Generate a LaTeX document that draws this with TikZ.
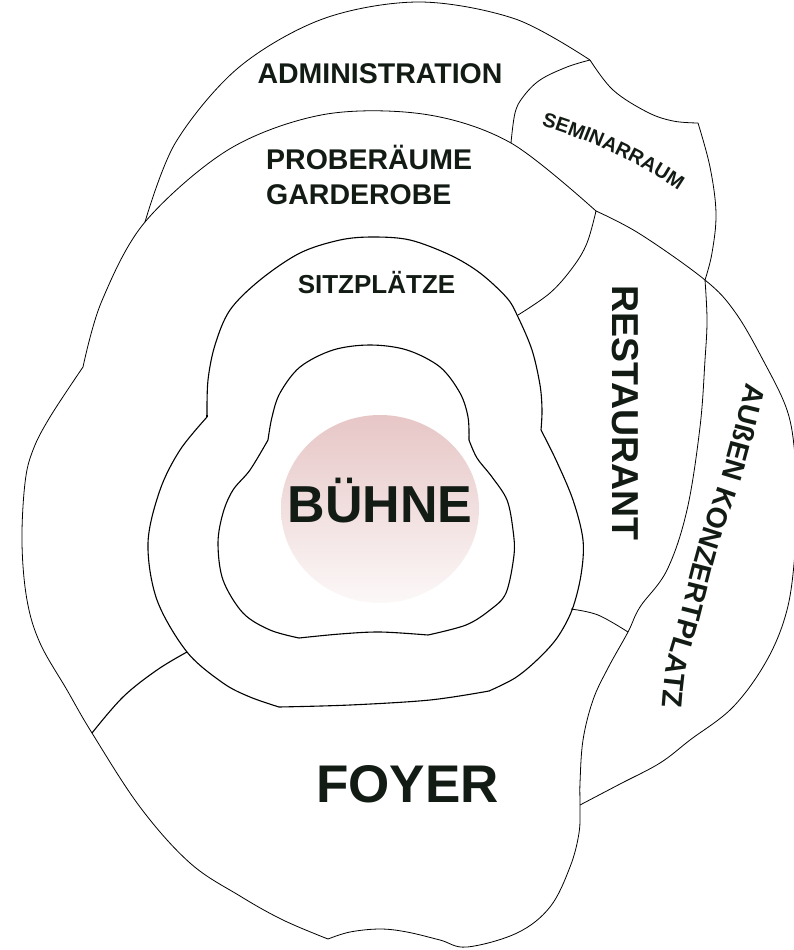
\documentclass[tikz,border=0pt]{standalone}
\usepackage{fontspec}
\setmainfont{Liberation Sans}
\newfontfamily\sbold{Liberation Sans Bold}
\usetikzlibrary{decorations.text}
\definecolor{txt}{RGB}{19,27,21}
\definecolor{stagetop}{RGB}{231,198,198}
\definecolor{stagebot}{RGB}{252,248,248}
\begin{document}
\begin{tikzpicture}[x=1pt,y=-1pt,
  wall/.style={line width=0.8pt, black},
  ring/.style={line width=1.1pt, black},
  lbl/.style={text=txt, inner sep=0pt}]
\useasboundingbox (0,0) rectangle (794,950);

% stage gradient
\shade[top color=stagetop, bottom color=stagebot] (380,509) ellipse [x radius=99, y radius=94];

% administration arc
\draw[wall] plot[smooth, tension=0.55] coordinates {(145,222) (175.6,142.5) (238.4,67.7) (322.9,18.9) (419,2) (515.1,18.9) (590,60)};
% probe arc
\draw[wall] plot[smooth, tension=0.55] coordinates {(83,367) (101.6,301.5) (145,222) (229.5,149) (324.5,114.4) (425.5,114.4) (511,143) (596,211)};
% seminar top (concave)
\draw[wall] plot[smooth, tension=0.6] coordinates {(590,60) (613,90) (647,112) (673,121) (698,123)};
% seminar right
\draw[wall] plot[smooth, tension=0.6] coordinates {(698,123) (710,167) (716,213) (712,253) (705,280)};
% seminar left
\draw[wall] plot[smooth, tension=0.6] coordinates {(590,60) (567,67) (540,80) (523,97) (515,113) (511,143)};
% restaurant top + outdoor outer arc
\draw[wall] plot[smooth, tension=0.6] coordinates {(596,211) (640,234) (705,280) (735,312) (763,360) (787,410) (795,455) (797,500) (795,553) (787,610) (767,660) (733,707) (690,740) (660,763) (620,784) (580,805)};
% restaurant right + foyer right + bottom
\draw[wall] plot[smooth, tension=0.6] coordinates {(705,280) (707,320) (705,360) (700,427) (687,510) (667,570) (640,607) (628,632) (608,668) (593,700) (583,740) (580,783) (580,805) (579,833) (570,867) (550,907) (517,933) (467,947) (440,940) (407,932) (380,929) (350,932) (328,939)};
% left outer
\draw[wall] plot[smooth, tension=0.6] coordinates {(83,367) (50,417) (33,450) (25,483) (22,543) (27,600) (40,643) (67,690) (92,733) (140,807) (190,863) (240,896) (283,920) (328,939)};
% restaurant left
\draw[wall] plot[smooth, tension=0.6] coordinates {(596,211) (587,243) (573,267) (550,293) (518,315)};
% restaurant / foyer divider
\draw[wall] plot[smooth, tension=0.6] coordinates {(571,609) (598,615) (628,632)};
% left divider
\draw[ring] plot[smooth, tension=0.6] coordinates {(92,733) (123,697) (157,670) (187,652)};

% seating ring
\draw[ring] plot[smooth, tension=0.55] coordinates {(207,415) (208,380) (215,345) (230,310) (260,280) (300,253) (340,240) (373,237) (410,240) (450,255) (480,273) (507,298) (518,317) (532,350) (540,385) (542,410) (541,430)};
\draw[ring] plot[smooth, tension=0.55] coordinates {(541,430) (556,460) (573,500) (583,540) (581,575) (572,610) (557,638) (537,660) (515,678) (489,691)};
\draw[ring] plot[smooth, tension=0.55] coordinates {(489,691) (430,700) (350,705) (279,707)};
\draw[ring] plot[smooth, tension=0.55] coordinates {(279,707) (250,697) (223,683) (187,652) (157,600) (148,543) (160,490) (180,450) (207,417)};
\draw[ring] (207,415) -- (207,417);

% stage outline
\draw[ring] plot[smooth, tension=0.55] coordinates {(268,440) (272,417) (280,393) (300,367) (333,350) (370,345) (407,350) (440,367) (460,393) (468,417) (469,440)};
\draw[ring] plot[smooth, tension=0.55] coordinates {(469,440) (477,458) (492,477) (507,500) (513,530) (514,555) (506,593) (490,610) (466,625) (428,635)};
\draw[ring] plot[smooth, tension=0.55] coordinates {(428,635) (380,632) (340,634) (299,638)};
\draw[ring] plot[smooth, tension=0.55] coordinates {(299,638) (270,630) (243,613) (223,580) (218,543) (223,513) (233,490) (250,470) (268,440)};

% labels
\node[lbl, font=\bfseries\fontsize{28.5}{30}\selectfont, anchor=base] (admin) at (380,84) {ADMINISTRATION};
\node[lbl, font=\bfseries\fontsize{28.5}{30}\selectfont, anchor=base west] (probe) at (266,169) {PROBERÄUME};
\node[lbl, font=\bfseries\fontsize{28.5}{30}\selectfont, anchor=base west] (garde) at (266,204) {GARDEROBE};
\node[lbl, font=\bfseries\fontsize{26}{28}\selectfont, anchor=base] (sitz) at (376.5,293) {SITZPLÄTZE};
\node[lbl, font=\bfseries\fontsize{52}{56}\selectfont, anchor=base] (buehne) at (380,522) {BÜHNE};
\node[lbl, font=\bfseries\fontsize{53}{56}\selectfont, anchor=base] (foyer) at (407.5,802) {FOYER};
\node[lbl, font=\bfseries\fontsize{37.5}{40}\selectfont, anchor=base, rotate=-90] (rest) at (612,413) {RESTAURANT};

\path[decorate, decoration={text along path, text color=txt, text align=center,
  text={|\sbold\fontsize{20}{21}\selectfont|SEMINARRAUM}}]
  (535,124) .. controls (585,138) and (640,163) .. (684,194);

\path[decorate, decoration={text along path, text color=txt, text align=center,
  text={|\sbold\fontsize{28.5}{30}\selectfont|AUßEN KONZERTPLATZ}}]
  plot[smooth, tension=0.6] coordinates {(749,370) (737,420) (724,468) (710,510) (697,550) (679,620) (666,668) (661,720)};
\end{tikzpicture}
\end{document}
